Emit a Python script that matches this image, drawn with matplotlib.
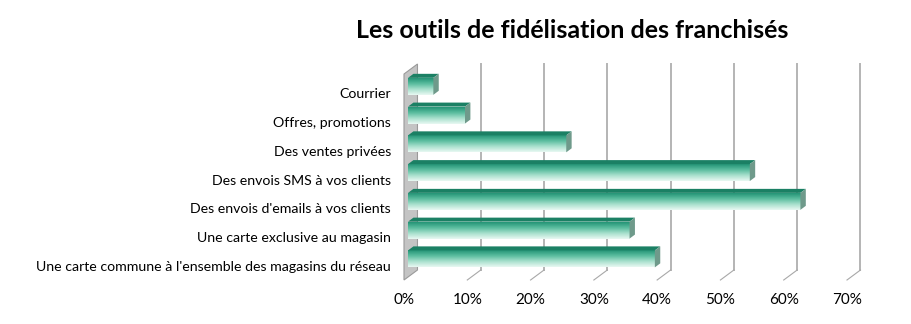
import matplotlib
matplotlib.use("Agg")
import matplotlib.pyplot as plt
from matplotlib.patches import Polygon
import numpy as np

# data (top to bottom, as in the chart)
categories = [
    "Courrier",
    "Offres, promotions",
    "Des ventes privées",
    "Des envois SMS à vos clients",
    "Des envois d'emails à vos clients",
    "Une carte exclusive au magasin",
    "Une carte commune à l'ensemble des magasins du réseau",
]
values = [4, 9, 25, 54, 62, 35, 39]
x_ticks = [0, 10, 20, 30, 40, 50, 60, 70]
x_tick_labels = ["0%", "10%", "20%", "30%", "40%", "50%", "60%", "70%"]

plt.rcParams["font.family"] = ["Lato", "DejaVu Sans"]

# fake 3D projection: depth 0 = front, depth 1 = back wall
DX = 2.13    # x units per full depth
DY = 0.348   # y units per full depth (upwards)
Y_TOP = -0.88
Y_FLOOR = 6.63
D1, D2 = 0.3, 0.7   # bar front / back depth
H = 0.59            # bar height


def proj(x, y, d):
    return x + d * DX, y - d * DY


fig = plt.figure(figsize=(9.11, 3.24), dpi=100)
ax = fig.add_axes([404 / 911, 44 / 324, 443 / 911, 216 / 324])

wall_c = "#c4c4c4"
grid_c = "#b4b4b4"

# left side wall
pts = [proj(0, Y_TOP + DY, 0), proj(0, Y_TOP + DY, 1), proj(0, Y_FLOOR, 1), proj(0, Y_FLOOR, 0)]
ax.add_patch(Polygon(pts, closed=True, facecolor=wall_c, edgecolor="#9a9a9a", lw=0.8, zorder=1, clip_on=False))

# back wall grid lines + floor diagonals
for t in x_ticks[1:]:
    xb, yb_top = proj(t, Y_TOP + DY, 1)
    _, yb_bot = proj(t, Y_FLOOR, 1)
    ax.plot([xb, xb], [yb_top, yb_bot], color=grid_c, lw=1.4, zorder=1, clip_on=False)
    ax.plot([xb, t], [yb_bot, Y_FLOOR], color="#a8a8a8", lw=0.8, zorder=1, clip_on=False)

# gradient for the bar fronts
grad = np.linspace(0, 1, 64).reshape(-1, 1)
cmap = matplotlib.colors.LinearSegmentedColormap.from_list(
    "teal", ["#249476", "#5bbd9f", "#a8e0cd", "#e8f8f2"])

for i, v in enumerate(values):
    x0, yc = proj(0, i, D1)
    x1 = v + D1 * DX
    top, bot = yc - H / 2, yc + H / 2
    dd = D2 - D1
    # front face
    ax.imshow(grad, cmap=cmap, aspect="auto", extent=(x0, x1, bot, top),
              origin="upper", zorder=3, interpolation="bilinear", clip_on=False)
    # top face
    ax.add_patch(Polygon([(x0, top), (x1, top), (x1 + dd * DX, top - dd * DY), (x0 + dd * DX, top - dd * DY)],
                         closed=True, facecolor="#1b8064", edgecolor="none", zorder=4, clip_on=False))
    # side face
    ax.add_patch(Polygon([(x1, top), (x1, bot), (x1 + dd * DX, bot - dd * DY), (x1 + dd * DX, top - dd * DY)],
                         closed=True, facecolor="#6f9a8b", edgecolor="none", zorder=4, clip_on=False))

ax.set_xlim(0, 70)
ax.set_ylim(Y_FLOOR, Y_TOP)
ax.set_xticks(x_ticks)
ax.set_xticklabels(x_tick_labels, fontsize=11)
ax.set_yticks([i + 0.14 for i in range(len(categories))])
ax.set_yticklabels(categories, fontsize=10.2)
ax.tick_params(axis="x", length=0, pad=9)
ax.tick_params(axis="y", length=0, pad=9.5)
for s in ax.spines.values():
    s.set_visible(False)

fig.text(572 / 911, 1 - 31 / 324, "Les outils de fidélisation des franchisés",
         ha="center", va="center", fontsize=18, fontweight="bold")

fig.savefig("out.png", dpi=100)
